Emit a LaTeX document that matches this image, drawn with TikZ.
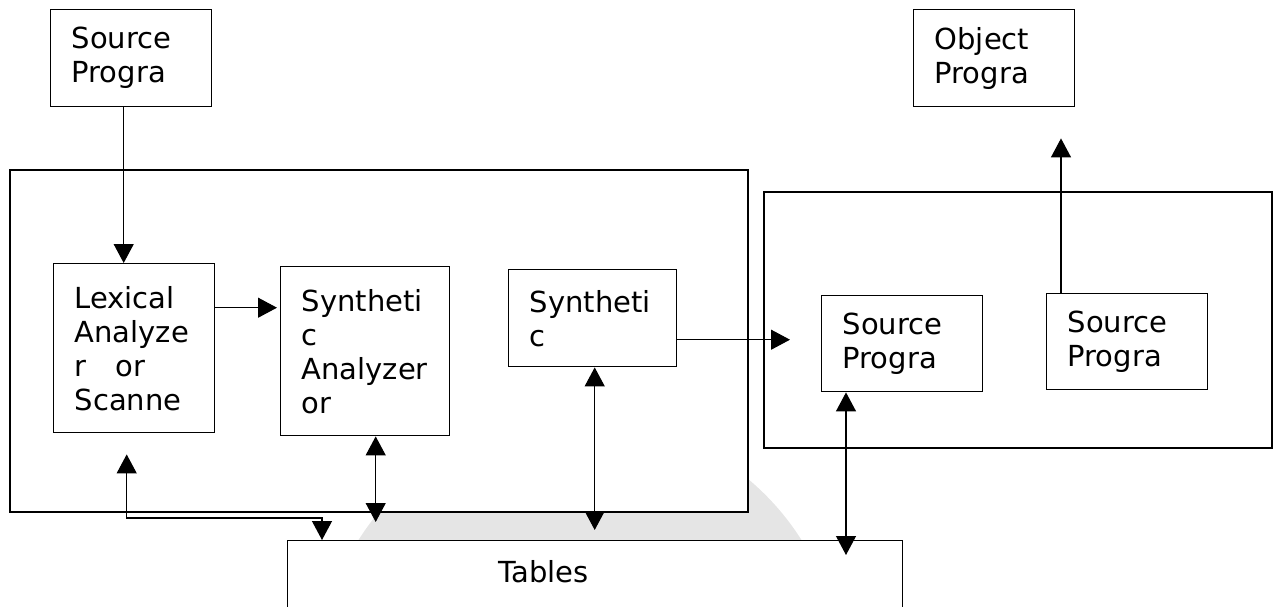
\documentclass[tikz,border=0pt]{standalone}
\usepackage{fontspec}
\setmainfont{DejaVu Sans}
\usepackage{tikz}
\usetikzlibrary{arrows.meta, positioning, calc}
\setlength{\parindent}{0pt}
\newcommand{\boxfont}{\fontsize{29}{34}\selectfont}
\tikzset{
    stage/.style={rectangle, draw, fill=white, line width=1.4pt,
                  anchor=north west, align=left, inner xsep=21pt,
                  inner ysep=0pt, text width=#1, font=\boxfont},
    phase/.style={rectangle, draw, fill=white, line width=1.6pt,
                  anchor=north west, inner sep=0pt},
    arr/.style={line width=1.2pt, -{Triangle[length=19pt, width=20pt]}},
    dbl/.style={line width=1.2pt,
                {Triangle[length=19pt, width=20pt]}-{Triangle[length=19pt, width=20pt]}},
}

\begin{document}
\begin{tikzpicture}[x=1pt, y=-1pt]
    \useasboundingbox (0,0) rectangle (1278,606);

    % Faint disc showing between the phases
    \fill[black!10] (580,680) circle[radius=262];

    % Phases
    \node[phase, minimum width=738pt, minimum height=342pt] (front) at (9,169) {};
    \node[phase, minimum width=508pt, minimum height=256pt] (back) at (763,191) {};

    % Input and output
    \node[stage=119pt, minimum height=97pt] (src) at (50,9) {Source\\Progra};
    \node[stage=119pt, minimum height=97pt] (obj) at (913,9) {Object\\Progra};

    % Front end
    \node[stage=119pt, minimum height=169pt] (lex) at (53,263)
        {Lexical\\Analyze\\r\hspace{1em}or\\Scanne};
    \node[stage=127pt, minimum height=169pt] (synA) at (280,266)
        {Syntheti\\c\\Analyzer\\or};
    \node[stage=126pt, minimum height=97pt] (syn) at (508,269) {Syntheti\\c};

    % Back end
    \node[stage=119pt, minimum height=96pt] (src1) at (821,295) {Source\\Progra};
    \node[stage=119pt, minimum height=96pt] (src2) at (1046,293) {Source\\Progra};

    % Tables
    \node[stage=193pt, inner xsep=211pt, inner ysep=20pt, text depth=80pt]
        (tables) at (287,540) {Tables};

    % Main flow
    \draw[arr] ([xshift=-7.5pt]src.south) -- ([xshift=-7.5pt]src.south |- lex.north);
    \draw[arr, shorten >=3pt] ([yshift=40.5pt]lex.east) -- ([yshift=40.5pt]lex.east -| synA.west);
    \draw[arr, shorten >=31pt] ([yshift=4pt]src1.west -| syn.east) -- ([yshift=4pt]src1.west);
    \draw[arr, shorten >=31pt] ([xshift=15pt]src2.north west)
        -- ([xshift=15pt]src2.north west |- obj.south);

    % Links to the tables
    \draw[dbl, shorten >=18pt] ([xshift=10.5pt]synA.south)
        -- ([xshift=10.5pt]synA.south |- tables.north);
    \draw[dbl, shorten >=10pt] ([xshift=2pt]syn.south) -- ([xshift=2pt]syn.south |- tables.north);
    \draw[dbl, shorten >=-15pt] ([xshift=25pt]src1.south west)
        -- ([xshift=25pt]src1.south west |- tables.north);

    % Scanner to tables
    \coordinate (lexin) at ([xshift=-7.5pt, yshift=-21pt]lex.south);
    \coordinate (tabin) at ([xshift=35pt, yshift=22pt]tables.north west);
    \draw[dbl] (lexin) |- (tabin) -- (tabin |- tables.north);
\end{tikzpicture}
\end{document}
